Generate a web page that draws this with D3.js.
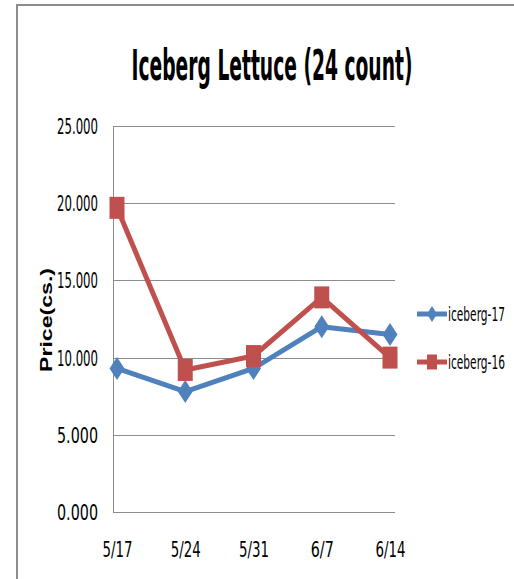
<!DOCTYPE html>
<html><head><meta charset="utf-8">
<script src="https://cdn.jsdelivr.net/npm/d3@7/dist/d3.min.js"></script>
<style>html,body{margin:0;padding:0;background:#fff;}svg{display:block;}</style>
</head><body>
<script>
const categories = ["5/17", "5/24", "5/31", "6/7", "6/14"];
const iceberg17 = [9.3, 7.8, 9.3, 12.0, 11.5];
const iceberg16 = [19.7, 9.2, 10.1, 13.9, 10.0];
const yTicks = [0, 5, 10, 15, 20, 25];
const seriesNames = ["iceberg-17", "iceberg-16"];
const titleText = "Iceberg Lettuce (24 count)";
const yLabel = "Price(cs.)";

const W = 514, H = 579;
const svg = d3.select("body").append("svg").attr("width", W).attr("height", H);
const narrow = "'Liberation Sans Narrow','DejaVu Sans Condensed','Liberation Sans',sans-serif";

// place a text so that its natural width is horizontally squeezed to 'width'
function fitText(parent, str, opts) {
  const g = parent.append("g").attr("transform", `translate(${opts.x},${opts.y})${opts.rotate ? ` rotate(${opts.rotate})` : ""}`);
  const t = g.append("text").attr("font-family", opts.family || narrow)
    .attr("font-size", opts.size).attr("font-weight", opts.weight || "normal")
    .attr("fill", "#000").attr("text-anchor", opts.anchor || "start").text(str);
  const w = t.node().getComputedTextLength();
  if (w > 0) t.attr("transform", `scale(${opts.width / w},1)`);
  return t;
}

// chart border
svg.append("path").attr("d", `M17,${H} L17,5 L${W},5`).attr("fill", "none")
  .attr("stroke", "#8c8c8c").attr("stroke-width", 2);

const plot = {left: 113, right: 395, top: 126, bottom: 512};
const x = d3.scalePoint().domain(categories).range([117, 390]);
const y = d3.scaleLinear().domain([0, 25]).range([plot.bottom, plot.top]);

// gridlines
svg.append("g").selectAll("line").data(yTicks).join("line")
  .attr("x1", plot.left).attr("x2", plot.right)
  .attr("y1", d => Math.round(y(d)) + 0.5).attr("y2", d => Math.round(y(d)) + 0.5)
  .attr("stroke", "#8c8c8c").attr("stroke-width", 1);
svg.append("line").attr("x1", plot.left + 0.5).attr("x2", plot.left + 0.5)
  .attr("y1", plot.top).attr("y2", plot.bottom + 0.5).attr("stroke", "#8c8c8c");

// y axis labels (ticks via the library axis, then squeezed)
const yAxis = d3.axisLeft(y).tickValues(yTicks).tickFormat(d3.format(".3f")).tickSize(0).tickPadding(15);
const ya = svg.append("g").attr("transform", `translate(${plot.left},0)`).call(yAxis);
ya.select(".domain").remove();
ya.selectAll(".tick text").each(function () {
  const t = d3.select(this);
  t.attr("font-family", narrow).attr("font-size", 21).attr("fill", "#000").attr("dy", "0.36em").attr("x", 0);
  const w = this.getComputedTextLength();
  t.attr("transform", `translate(-15,0) scale(${41 / w},1)`);
});

// x axis labels
const xAxis = d3.axisBottom(x).tickSize(0).tickPadding(0);
const xa = svg.append("g").attr("transform", `translate(0,${plot.bottom})`).call(xAxis);
xa.select(".domain").remove();
xa.selectAll(".tick text").each(function (d) {
  const t = d3.select(this);
  t.attr("font-family", narrow).attr("font-size", 22).attr("fill", "#000").attr("dy", null).attr("y", 0);
  const w = this.getComputedTextLength();
  const target = d.length === 4 ? 30 : 23;
  t.attr("transform", `translate(0,45) scale(${target / w},1)`);
});

// title
fitText(svg, titleText, {x: 272, y: 80, size: 42, weight: "bold", width: 281, anchor: "middle"});

// y label
fitText(svg, yLabel, {x: 52, y: 320, rotate: -90, size: 16, weight: "bold", width: 104, anchor: "middle",
  family: "'Liberation Sans',Arial,sans-serif"});

const blue = "#4F81BD", red = "#C0504D";
const line = d3.line().x((d, i) => x(categories[i])).y(d => y(d));

function diamond(g, cx, cy, w, h, c) {
  g.append("path").attr("d", `M${cx},${cy - h / 2} L${cx + w / 2},${cy} L${cx},${cy + h / 2} L${cx - w / 2},${cy} Z`).attr("fill", c);
}
function square(g, cx, cy, w, h, c) {
  g.append("rect").attr("x", cx - w / 2).attr("y", cy - h / 2).attr("width", w).attr("height", h).attr("fill", c);
}

const s17 = svg.append("g");
s17.append("path").attr("d", line(iceberg17)).attr("fill", "none").attr("stroke", blue)
  .attr("stroke-width", 5).attr("stroke-linejoin", "round");
iceberg17.forEach((v, i) => diamond(s17, x(categories[i]), y(v), 15, 23, blue));

const s16 = svg.append("g");
s16.append("path").attr("d", line(iceberg16)).attr("fill", "none").attr("stroke", red)
  .attr("stroke-width", 5).attr("stroke-linejoin", "round");
iceberg16.forEach((v, i) => square(s16, x(categories[i]), y(v), 15, 22, red));

// legend
const legY = [314, 362];
const legColors = [blue, red];
seriesNames.forEach((name, i) => {
  const g = svg.append("g");
  g.append("line").attr("x1", 417).attr("x2", 447).attr("y1", legY[i]).attr("y2", legY[i])
    .attr("stroke", legColors[i]).attr("stroke-width", 5);
  if (i === 0) diamond(g, 432, legY[i], 10, 16, blue); else square(g, 432, legY[i], 10, 15, red);
  fitText(g, name, {x: 448, y: legY[i] + 7, size: 19, width: 57});
});
</script>
</body></html>
